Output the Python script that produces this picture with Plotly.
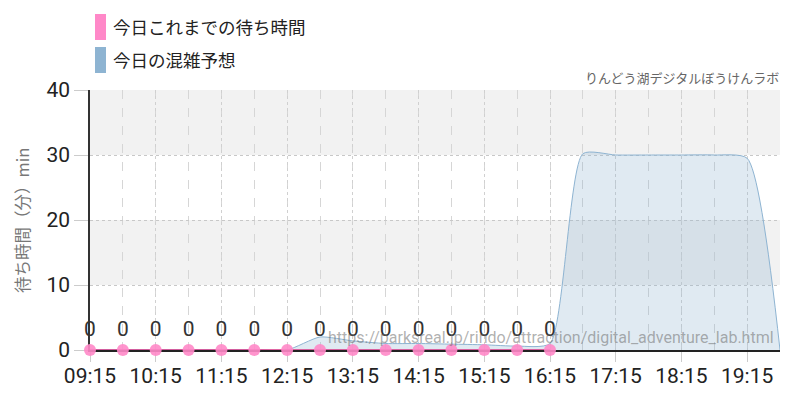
import plotly.graph_objects as go

# 今日これまでの待ち時間 (30分ごと)
wait_times = ["09:15", "09:45", "10:15", "10:45", "11:15", "11:45", "12:15", "12:45",
              "13:15", "13:45", "14:15", "14:45", "15:15", "15:45", "16:15"]
wait_values = [0, 0, 0, 0, 0, 0, 0, 0, 0, 0, 0, 0, 0, 0, 0]

# 今日の混雑予想
forecast_times = ["09:15", "09:45", "10:15", "10:45", "11:15", "11:45", "12:15", "12:45",
                  "13:15", "13:45", "14:15", "14:45", "15:15", "15:45", "16:15", "16:45",
                  "17:15", "17:45", "18:15", "18:45", "19:15", "19:45"]
forecast_values = [0, 0, 0, 0, 0, 0, 0, 2.0,
                   1.4, 1.0, 1.0, 0.9, 0.8, 0.6, 1.0, 30.2,
                   30, 30, 30, 30, 29.5, 0]

y_ticks = [0, 10, 20, 30, 40]
x_ticks = ["09:15", "10:15", "11:15", "12:15", "13:15", "14:15",
           "15:15", "16:15", "17:15", "18:15", "19:15"]
shaded_bands = [(10, 20), (30, 40)]

DAY = "2024-01-01 "
NUM_FONT = "Roboto, sans-serif"
JP_FONT = "Noto Sans CJK JP, Noto Sans, sans-serif"

# plot area in pixels (800x400 page)
L, R, T, B = 90, 780, 90, 350


def px(x, y):
    """pixel -> paper coords"""
    return (x - L) / (R - L), (B - y) / (B - T)


fig = go.Figure()

fig.add_trace(go.Scatter(
    x=[DAY + t for t in forecast_times],
    y=forecast_values,
    mode="lines",
    line=dict(color="#8eb4d2", width=1, shape="spline", smoothing=0.6),
    fill="tozeroy",
    fillcolor="rgba(142,180,210,0.28)",
    hoverinfo="skip",
    showlegend=False,
))

fig.add_trace(go.Scatter(
    x=[DAY + t for t in wait_times],
    y=wait_values,
    mode="lines+markers+text",
    line=dict(color="#d63384", width=1.5),
    marker=dict(color="rgba(255,136,200,0.9)", size=12),
    text=[str(v) for v in wait_values],
    textposition="top center",
    textfont=dict(family=NUM_FONT, size=21, color="#333"),
    cliponaxis=False,
    showlegend=False,
))

shapes = []
for y0, y1 in shaded_bands:
    shapes.append(dict(type="rect", xref="paper", yref="y", x0=0, x1=1, y0=y0, y1=y1,
                       fillcolor="#f2f2f2", line=dict(width=0), layer="below"))

# legend swatches
annotations = []
legend_items = [("今日これまでの待ち時間", "#ff88c8", 14), ("今日の混雑予想", "#8eb4d2", 47)]
for label, color, top in legend_items:
    x0, y1 = px(95, top)
    x1, y0 = px(106, top + 26)
    shapes.append(dict(type="rect", xref="paper", yref="paper", x0=x0, x1=x1, y0=y0, y1=y1,
                       fillcolor=color, line=dict(width=0)))
    tx, ty = px(111, top + 13)
    annotations.append(dict(text=label, xref="paper", yref="paper", x=tx, y=ty,
                            xanchor="left", yanchor="middle", showarrow=False,
                            font=dict(family=JP_FONT, size=17.5, color="#222")))

sx, sy = px(781, 78)
annotations.append(dict(text="りんどう湖デジタルぼうけんラボ", xref="paper", yref="paper",
                        x=sx, y=sy, xanchor="right", yanchor="middle", showarrow=False,
                        font=dict(family=JP_FONT, size=13, color="#666")))

wx, wy = px(776, 337)
annotations.append(dict(text="https://parksreal.jp/rindo/attraction/digital_adventure_lab.html",
                        xref="paper", yref="paper", x=wx, y=wy, xanchor="right", yanchor="middle",
                        showarrow=False,
                        font=dict(family="Roboto, sans-serif", size=16, color="rgba(110,110,110,0.55)")))

tx, ty = px(22, 221)
annotations.append(dict(text="待ち時間（分）min", xref="paper", yref="paper", x=tx, y=ty,
                        xanchor="center", yanchor="middle", textangle=-90, showarrow=False,
                        font=dict(family=JP_FONT, size=16.5, color="#777")))

fig.update_layout(
    width=800, height=400,
    margin=dict(l=L, r=800 - R, t=T, b=400 - B),
    paper_bgcolor="white", plot_bgcolor="white",
    shapes=shapes, annotations=annotations,
    xaxis=dict(
        type="date",
        range=[DAY + "09:15", DAY + "19:45"],
        tickvals=[DAY + t for t in x_ticks],
        ticktext=x_ticks,
        ticks="outside", ticklen=10, tickcolor="#ccc", ticklabelstandoff=-4,
        tickfont=dict(family=NUM_FONT, size=21, color="#222"),
        showgrid=True, gridcolor="#d0d0d0", griddash="dot", gridwidth=1,
        minor=dict(dtick=30 * 60 * 1000, tick0=DAY + "09:15", showgrid=True,
                   gridcolor="#d6d6d6", griddash="dash"),
        showline=True, linecolor="#222", linewidth=1.5,
        zeroline=False, layer="below traces", fixedrange=True, automargin=False,
    ),
    yaxis=dict(
        range=[0, 40],
        tickvals=y_ticks,
        ticks="outside", ticklen=14, tickcolor="#ccc",
        tickfont=dict(family=NUM_FONT, size=21, color="#222"),
        showgrid=True, gridcolor="#c8c8c8", griddash="dot",
        showline=True, linecolor="#333", linewidth=1.5,
        zeroline=False, layer="below traces", fixedrange=True, automargin=False,
    ),
)

# the page body has a default 8px margin; drop it so the figure sits at 0,0
fig.write_html("out.html", config={"displayModeBar": False},
               post_script="document.body.style.margin='0';")
